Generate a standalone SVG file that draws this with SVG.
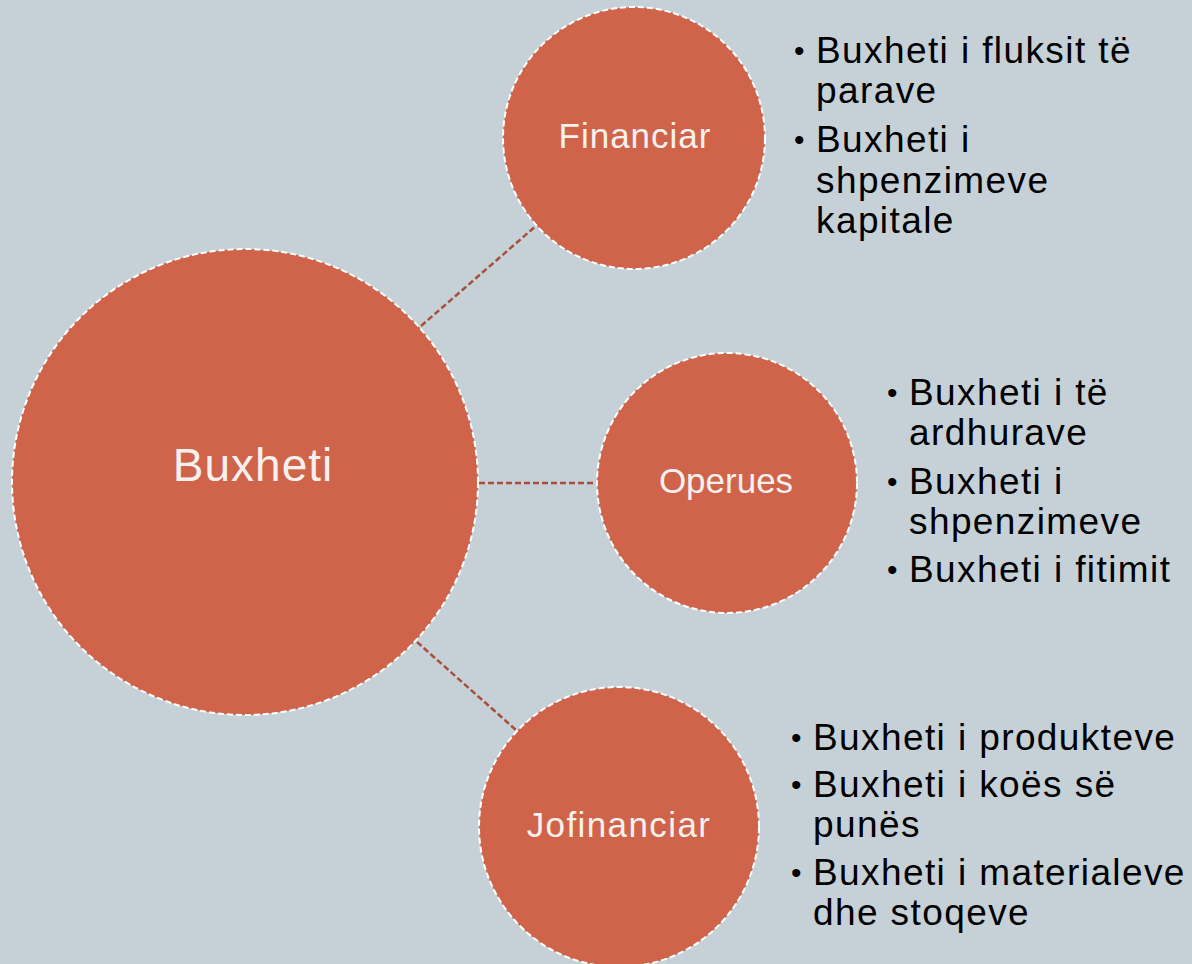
<svg xmlns="http://www.w3.org/2000/svg" width="1192" height="964" viewBox="0 0 1192 964">
  <style>
    .bubble { fill: #D0644A; stroke: #FFFFFF; stroke-width: 2; stroke-dasharray: 6 3; }
    .link { stroke: #A84E3A; stroke-width: 2.5; stroke-dasharray: 6 3; fill: none; }
    .label { font-family: "Liberation Sans", Arial, sans-serif; fill: #F6F1EE; text-anchor: middle; font-variant-ligatures: none; }
    .items { font-family: "Liberation Sans", Arial, sans-serif; font-size: 37px; letter-spacing: 1.4px; fill: #000000; font-variant-ligatures: none; }
    .dot { font-size: 30px; letter-spacing: 0; }
  </style>
  <rect width="1192" height="964" fill="#C5D1D7"/>

  <g id="connectors">
    <line class="link" x1="421" y1="326" x2="537" y2="225"/>
    <line class="link" x1="479" y1="483" x2="598" y2="483"/>
    <line class="link" x1="417" y1="642" x2="516" y2="730"/>
  </g>

  <g id="node-buxheti">
    <circle class="bubble" cx="245" cy="482" r="233"/>
    <text class="label" x="253" y="481" font-size="46" letter-spacing="1">Buxheti</text>
  </g>

  <g id="node-financiar">
    <circle class="bubble" cx="634" cy="138" r="131"/>
    <text class="label" x="635" y="148" font-size="35" letter-spacing="1">Financiar</text>
  </g>

  <g id="node-operues">
    <circle class="bubble" cx="727" cy="483" r="130"/>
    <text class="label" x="726" y="493" font-size="35">Operues</text>
  </g>

  <g id="node-jofinanciar">
    <circle class="bubble" cx="619" cy="827" r="140"/>
    <text class="label" x="619" y="837" font-size="35" letter-spacing="1.4">Jofinanciar</text>
  </g>

  <g id="list-financiar" class="items">
    <text class="dot" x="794" y="61">•</text>
    <text x="816" y="63">Buxheti i fluksit të</text>
    <text x="816" y="103">parave</text>
    <text class="dot" x="794" y="150">•</text>
    <text x="816" y="152">Buxheti i</text>
    <text x="816" y="193">shpenzimeve</text>
    <text x="816" y="233">kapitale</text>
  </g>

  <g id="list-operues" class="items">
    <text class="dot" x="887" y="403">•</text>
    <text x="909" y="405">Buxheti i të</text>
    <text x="909" y="445">ardhurave</text>
    <text class="dot" x="887" y="492">•</text>
    <text x="909" y="494">Buxheti i</text>
    <text x="909" y="534">shpenzimeve</text>
    <text class="dot" x="887" y="580">•</text>
    <text x="909" y="582">Buxheti i fitimit</text>
  </g>

  <g id="list-jofinanciar" class="items">
    <text class="dot" x="791" y="748">•</text>
    <text x="813" y="750">Buxheti i produkteve</text>
    <text class="dot" x="791" y="795">•</text>
    <text x="813" y="797">Buxheti i koës së</text>
    <text x="813" y="837">punës</text>
    <text class="dot" x="791" y="883">•</text>
    <text x="813" y="885">Buxheti i materialeve</text>
    <text x="813" y="925">dhe stoqeve</text>
  </g>
</svg>
